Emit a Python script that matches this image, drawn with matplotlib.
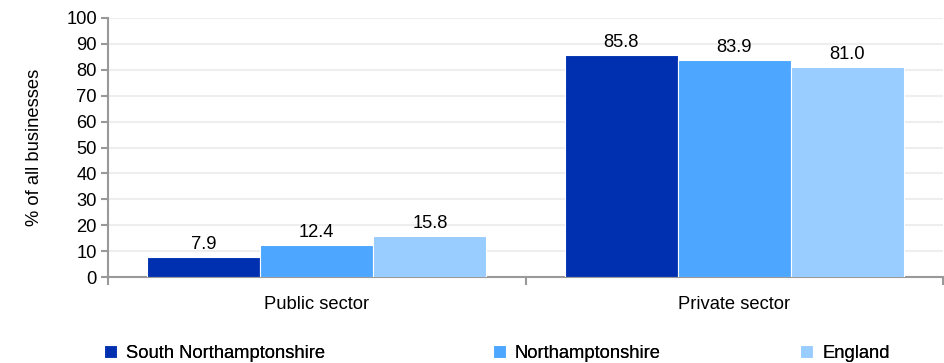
import matplotlib
matplotlib.use("Agg")
import matplotlib.pyplot as plt
import numpy as np

categories = ["Public sector", "Private sector"]
series_names = ["South Northamptonshire", "Northamptonshire", "England"]
south_northants = [7.9, 85.8]
northants = [12.4, 83.9]
england = [15.8, 81.0]
colors = ["#0030b0", "#4da6ff", "#99ccff"]
yticks = list(range(0, 101, 10))

plt.rcParams['font.family'] = ['Liberation Sans', 'DejaVu Sans']
fs = 13.2

fig = plt.figure(figsize=(9.44, 3.63), dpi=100)
ax = fig.add_axes([108/944, 1-277/363, (943-108)/944, (277-18)/363])

x = np.arange(len(categories))
w = 0.271
data = [south_northants, northants, england]
handles = []
for i, (vals, c, name) in enumerate(zip(data, colors, series_names)):
    bars = ax.bar(x + (i-1)*w, vals, w, color=c, label=name, zorder=3,
                  edgecolor='white', linewidth=0.8)
    handles.append(bars)
    for b, v in zip(bars, vals):
        ax.text(b.get_x()+b.get_width()/2, v+1.5, f"{v:.1f}", ha='center', va='bottom',
                fontsize=fs, zorder=4)

ax.set_xlim(-0.5, 1.5)
ax.set_ylim(0, 100)
ax.set_yticks(yticks)
ax.set_yticklabels([str(t) for t in yticks], fontsize=fs)
ax.yaxis.grid(True, color='#eeeeee', linewidth=1.5, zorder=0)
ax.set_axisbelow(True)
ax.set_xticks([-0.5, 0.5, 1.5])
ax.set_xticklabels([])
ax.set_xticks(x, minor=True)
ax.set_xticklabels(categories, minor=True, fontsize=fs)
ax.tick_params(axis='x', which='minor', length=0, pad=14)
ax.tick_params(axis='x', which='major', length=6, color='#999999', width=1.5, direction='out')
ax.tick_params(axis='y', length=5, color='#999999', width=1.5, pad=3)
for s in ['top', 'right']:
    ax.spines[s].set_visible(False)
for s in ['left', 'bottom']:
    ax.spines[s].set_color('#999999')
    ax.spines[s].set_linewidth(1.5)
ax.set_ylabel("% of all businesses", fontsize=fs, labelpad=17)

legend_x = [104/944, 493/944, 800/944]
for h, name, lx in zip(handles, series_names, legend_x):
    leg = fig.legend([h], [name], loc='center left', bbox_to_anchor=(lx, 1-353/363),
                     frameon=False, fontsize=fs, borderpad=0, borderaxespad=0,
                     handlelength=0.7, handleheight=0.7, handletextpad=0.5)
    fig.add_artist(leg)

fig.savefig("out.png", dpi=100)
